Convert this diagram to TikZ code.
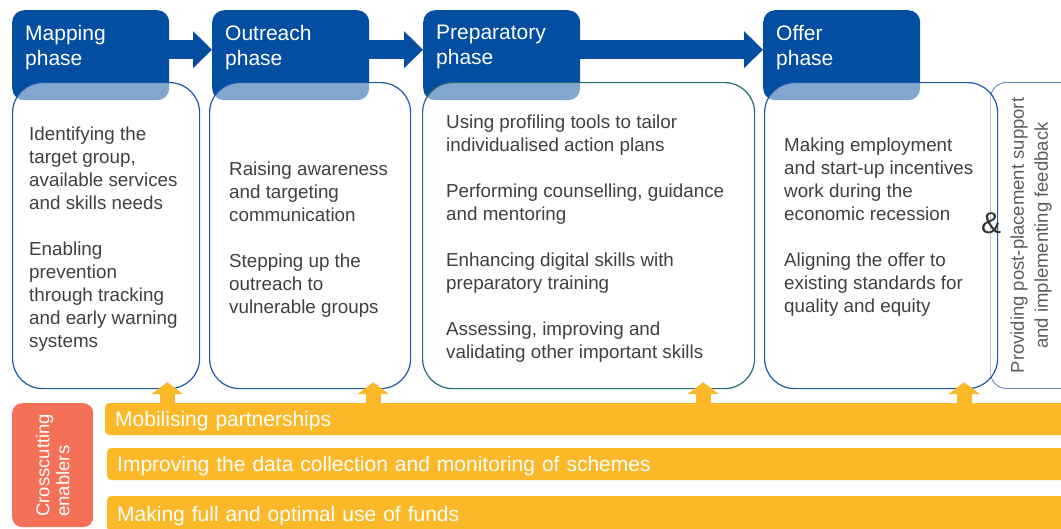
\documentclass[tikz,border=0pt]{standalone}
\usepackage{fontspec}
\setmainfont{Liberation Sans}
\usetikzlibrary{arrows.meta}

\definecolor{phaseblue}{RGB}{4,78,162}
\definecolor{bodyline}{RGB}{32,88,168}
\definecolor{prepline}{RGB}{40,105,120}
\definecolor{postline}{RGB}{100,135,185}
\definecolor{bodygrey}{RGB}{64,64,64}
\definecolor{enablerorange}{RGB}{251,184,41}
\definecolor{crosssalmon}{RGB}{244,112,87}

\begin{document}
\begin{tikzpicture}[x=1pt, y=-1pt,
    phase/.style={fill=phaseblue, rounded corners=12pt, minimum width=157pt,
      minimum height=90pt, inner sep=0pt, anchor=north west},
    phasetitle/.style={text=white, align=left, inner sep=0pt, anchor=north west,
      font=\fontsize{21}{25}\selectfont},
    body/.style={draw=bodyline, line width=1.2pt, fill=white, fill opacity=0.5,
      rounded corners=30pt, minimum height=306pt, inner sep=0pt, anchor=north west},
    bodytext/.style={text=bodygrey, align=left, inner sep=0pt, anchor=west,
      font=\fontsize{18.8}{23}\selectfont},
    flow/.style={draw=phaseblue, line width=19pt, -{Triangle[width=36pt,length=19pt]}},
    lift/.style={draw=enablerorange, line width=15pt, -{Triangle[width=31pt,length=12pt]}},
    enabler/.style={fill=enablerorange, rounded corners=4pt, minimum height=32pt,
      text width=965pt, inner xsep=10pt, inner ysep=0pt, align=left, anchor=west,
      text height=15pt, text depth=0pt,
      text=white, font=\fontsize{21}{25}\selectfont}
  ]
  \useasboundingbox (0,0) rectangle (1061,528);
  \clip (0,0) rectangle (1061,528);

  % Phase headers
  \node[phase] (mapHead) at (12,10) {};
  \node[phase] (outHead) at (212,10) {};
  \node[phase] (prepHead) at (423,10) {};
  \node[phase] (offerHead) at (763,10) {};

  \node[phasetitle] (mapTitle) at ([xshift=13pt,yshift=-15pt]mapHead.north west) {Mapping\\phase};
  \node[phasetitle] (outTitle) at ([xshift=13pt,yshift=-15pt]outHead.north west) {Outreach\\phase};
  \node[phasetitle] (prepTitle) at ([xshift=13pt,yshift=-15pt]prepHead.north west) {Preparatory\\phase};
  \node[phasetitle] (offerTitle) at ([xshift=13pt,yshift=-15pt]offerHead.north west) {Offer\\phase};

  % Arrows from one phase to the next
  \draw[flow] ([yshift=5.5pt]mapHead.east) -- ([yshift=5.5pt]outHead.west);
  \draw[flow] ([yshift=5.5pt]outHead.east) -- ([yshift=5.5pt]prepHead.west);
  \draw[flow] ([yshift=5.5pt]prepHead.east) -- ([yshift=5.5pt]offerHead.west);

  % Post-placement box behind the offer box
  \node[body, draw=postline, line width=0.9pt, rounded corners=16pt,
    minimum width=100pt] (postBody) at (990,82) {};

  % Phase contents
  \node[body, minimum width=187pt] (mapBody) at (12,82) {};
  \node[body, minimum width=201pt] (outBody) at (209,82) {};
  \node[body, draw=prepline, minimum width=332pt] (prepBody) at (422,82) {};
  \node[body, minimum width=233pt] (offerBody) at (764,82) {};

  \node[bodytext] (mapText) at (29,239.5)
    {Identifying the\\target group,\\available services\\and skills needs\\[23pt]%
     Enabling\\prevention\\through tracking\\and early warning\\systems};
  \node[bodytext] (outText) at (229,240)
    {Raising awareness\\and targeting\\communication\\[23pt]%
     Stepping up the\\outreach to\\vulnerable groups};
  \node[bodytext] (prepText) at (446,238.5)
    {Using profiling tools to tailor\\individualised action plans\\[23pt]%
     Performing counselling, guidance\\and mentoring\\[23pt]%
     Enhancing digital skills with\\preparatory training\\[23pt]%
     Assessing, improving and\\validating other important skills};
  \node[bodytext] (offerText) at (784,227.5)
    {Making employment\\and start-up incentives\\work during the\\economic recession\\[23pt]%
     Aligning the offer to\\existing standards for\\quality and equity};

  \node[text=bodygrey!80!black, font=\fontsize{30}{30}\selectfont, inner sep=0pt]
    (amp) at (991,223) {\&};
  \node[rotate=90, text=bodygrey!85!white, align=center, inner sep=0pt,
    font=\fontsize{18.5}{24}\selectfont] (postText) at (1031,235.5)
    {Providing post-placement support\\and implementing feedback};

  % Crosscutting enablers
  \node[fill=crosssalmon, rounded corners=10pt, minimum width=81pt, minimum height=124pt,
    inner sep=0pt, anchor=north west] (crossBox) at (12,403) {};
  \node[rotate=90, text=white, align=left, inner sep=0pt,
    font=\fontsize{18.5}{20}\selectfont] (crossText) at (crossBox.center) {Crosscutting\\enablers};

  \node[enabler] (enab1) at (105,419) {Mobilising partnerships};
  \node[enabler] (enab2) at (107,464) {Improving the data collection and monitoring of schemes};
  \node[enabler, minimum height=36pt] (enab3) at (107,514) {Making full and optimal use of funds};

  % Enablers feeding each phase
  \coordinate (mapLift) at ([xshift=-33pt]mapBody.south east);
  \coordinate (outLift) at ([xshift=-38pt]outBody.south east);
  \coordinate (prepLift) at ([xshift=-52pt]prepBody.south east);
  \coordinate (offerLift) at ([xshift=-34pt]offerBody.south east);
  \foreach \p in {mapLift,outLift,prepLift,offerLift}
    \draw[lift] (\p |- enab1.north) -- ([yshift=7pt]\p);

\end{tikzpicture}
\end{document}
